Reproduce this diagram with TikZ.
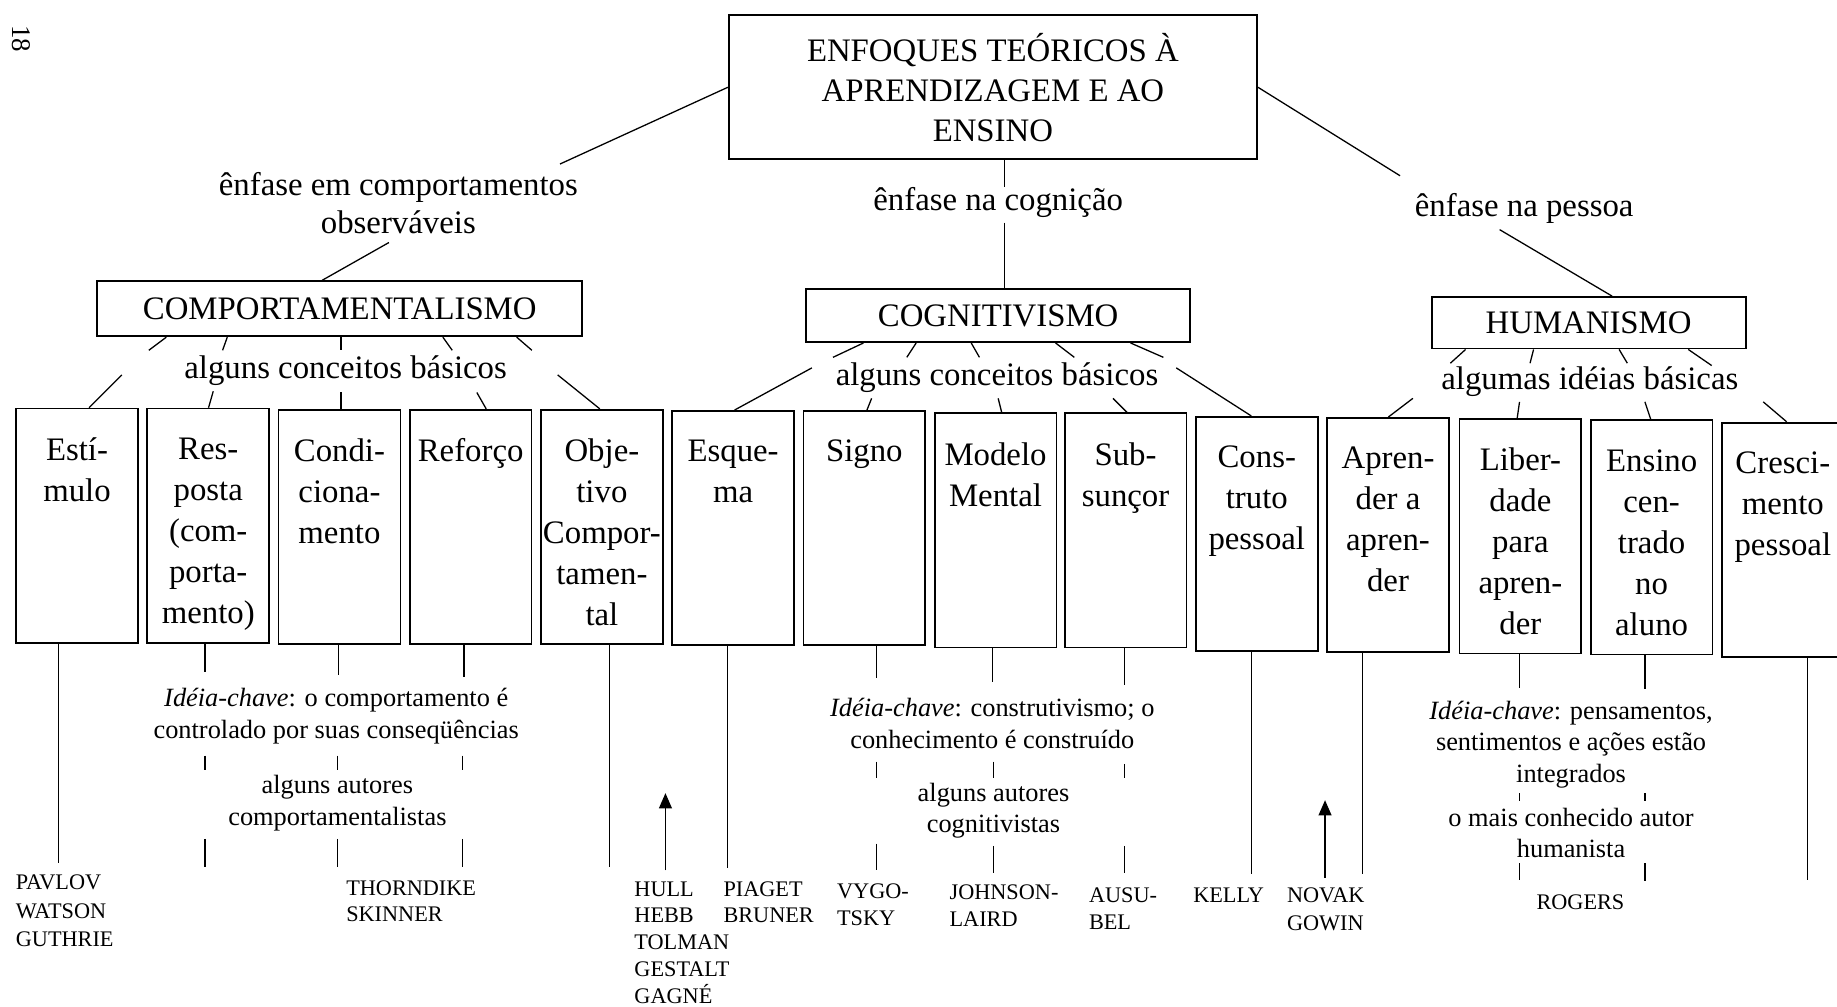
\documentclass[tikz,border=0pt]{standalone}
\usepackage{fontspec}
\setmainfont{Liberation Serif}
\usetikzlibrary{arrows.meta}
\begin{document}
\begin{tikzpicture}[x=1pt,y=-1pt,line width=1.1pt,
  cbox/.style={draw,line width=1.5pt,minimum width=104pt,minimum height=200pt,inner sep=0pt,anchor=north west},
  ctext/.style={font=\fontsize{28}{35}\selectfont,align=center,anchor=north,inner sep=0pt,yshift=-25pt},
  big/.style={font=\fontsize{28}{34}\selectfont,align=center,inner sep=0pt},
  catbox/.style={draw,line width=1.5pt,inner sep=0pt,font=\fontsize{28}{34}\selectfont},
  lab/.style={font=\fontsize{28}{33}\selectfont,align=center,inner sep=0pt},
  keytxt/.style={font=\fontsize{22.5}{27}\selectfont,align=center,inner sep=0pt},
  auth/.style={font=\fontsize{19}{23}\selectfont,align=left,anchor=north west,inner sep=0pt},
  uparrow/.style={-{Triangle[width=11pt,length=13pt]},line width=1.2pt}
]
\useasboundingbox (0,0) rectangle (1568,859);

% page number
\node[font=\fontsize{23}{23}\selectfont,rotate=-90,inner sep=0pt] (pg) at (18,33) {18};

% top box
\node[draw,line width=1.5pt,minimum width=451pt,minimum height=123pt,big] (top) at (847.5,74.5)
  {ENFOQUES TEÓRICOS À\\APRENDIZAGEM E AO\\ENSINO};

% emphasis labels
\node[lab] (e1) at (340,173.5) {ênfase em comportamentos\\observáveis};
\node[lab] (e2) at (852,173) {ênfase na cognição};
\node[lab] (e3) at (1301,178) {ênfase na pessoa};

% category boxes
\node[catbox,minimum width=414pt,minimum height=47pt] (comp) at (290,263.5) {COMPORTAMENTALISMO};
\node[catbox,minimum width=328pt,minimum height=45pt] (cog) at (852,269.5) {COGNITIVISMO};
\node[catbox,minimum width=268pt,minimum height=44pt] (hum) at (1356,275.5) {HUMANISMO};

% top-level connectors
\draw (top.west) -- (478,140);
\draw (332,207) -- (comp.north -| 275,0);
\draw (top.south -| 857.5,0) -- (857.5,160);
\draw (857.5,190) -- (cog.north -| 857.5,0);
\draw (top.east) -- (1195,150);
\draw (1280,196) -- (hum.north -| 1376,0);

% basic concept labels
\node[lab] (c1) at (295,316) {alguns conceitos básicos};
\node[lab] (c2) at (851,322) {alguns conceitos básicos};
\node[lab] (c3) at (1357,326) {algumas idéias básicas};

% concept boxes
\node[cbox] (b1) at (13,348) {};
\node[cbox] (b2) at (125,348) {};
\node[cbox] (b3) at (237,349) {};
\node[cbox] (b4) at (349,349) {};
\node[cbox] (b5) at (461,349) {};
\node[cbox] (b6) at (573,350) {};
\node[cbox] (b7) at (685,350) {};
\node[cbox] (b8) at (797,352) {};
\node[cbox] (b9) at (908,352) {};
\node[cbox] (b10) at (1020,355) {};
\node[cbox] (b11) at (1132,356) {};
\node[cbox] (b12) at (1245,357) {};
\node[cbox] (b13) at (1357,358) {};
\node[cbox] (b14) at (1469,360) {};

\node[ctext] at (b1.north) {Estí-\\mulo};
\node[ctext] at (b2.north) {Res-\\posta\\(com-\\porta-\\mento)};
\node[ctext] at (b3.north) {Condi-\\ciona-\\mento};
\node[ctext] at (b4.north) {Reforço};
\node[ctext] at (b5.north) {Obje-\\tivo\\Compor-\\tamen-\\tal};
\node[ctext] at (b6.north) {Esque-\\ma};
\node[ctext] at (b7.north) {Signo};
\node[ctext] at (b8.north) {Modelo\\Mental};
\node[ctext] at (b9.north) {Sub-\\sunçor};
\node[ctext] at (b10.north) {Cons-\\truto\\pessoal};
\node[ctext] at (b11.north) {Apren-\\der a\\apren-\\der};
\node[ctext] at (b12.north) {Liber-\\dade\\para\\apren-\\der};
\node[ctext] at (b13.north) {Ensino\\cen-\\trado\\no\\aluno};
\node[ctext] at (b14.north) {Cresci-\\mento\\pessoal};

% ticks: comportamentalismo
\draw (comp.south -| 142,0) -- (127,299);
\draw (comp.south -| 194,0) -- (190,299);
\draw (comp.south -| 291,0) -- (291,299);
\draw (comp.south -| 378,0) -- (386,299);
\draw (comp.south -| 441,0) -- (454,299);
\draw (104,320) -- (b1.north -| 76,0);
\draw (182,334) -- (b2.north -| 178,0);
\draw (291,335) -- (b3.north -| 291,0);
\draw (407,335) -- (b4.north -| 415,0);
\draw (476,320) -- (b5.north -| 512,0);

% ticks: cognitivismo
\draw (cog.south -| 737,0) -- (711,305);
\draw (cog.south -| 782,0) -- (774,305);
\draw (cog.south -| 829,0) -- (836,305);
\draw (cog.south -| 901,0) -- (917,305);
\draw (cog.south -| 965,0) -- (993,305);
\draw (693,314) -- (b6.north -| 627,0);
\draw (744,340) -- (b7.north -| 740,0);
\draw (852,340) -- (b8.north -| 855,0);
\draw (950,340) -- (b9.north -| 962,0);
\draw (1004,314) -- (b10.north -| 1068,0);

% ticks: humanismo
\draw (hum.south -| 1251,0) -- (1238,310);
\draw (hum.south -| 1309,0) -- (1306,310);
\draw (hum.south -| 1382,0) -- (1389,310);
\draw (hum.south -| 1441,0) -- (1461,312);
\draw (1206,340) -- (b11.north -| 1185,0);
\draw (1297,343) -- (b12.north -| 1295,0);
\draw (1404,343) -- (b13.north -| 1409,0);
\draw (1505,343) -- (b14.north -| 1525,0);

% lines below boxes
\draw (b1.south -| 50,0) -- (50,737);
\draw (b2.south -| 175,0) -- (175,574);
\draw (b3.south -| 289,0) -- (289,576);
\draw (b4.south -| 396,0) -- (396,578);
\draw (b5.south -| 520,0) -- (520,740);
\draw (b6.south -| 621,0) -- (621,741);
\draw (b7.south -| 748,0) -- (748,579);
\draw (b8.south -| 847,0) -- (847,582);
\draw (b9.south -| 960,0) -- (960,585);
\draw (b10.south -| 1068,0) -- (1068,746);
\draw (b11.south -| 1163,0) -- (1163,746);
\draw (b12.south -| 1297,0) -- (1297,587);
\draw (b13.south -| 1404,0) -- (1404,588);
\draw (b14.south -| 1543,0) -- (1543,751);

% key ideas
\node[keytxt] (k1) at (287,611.5) {\textit{Idéia-chave}: o comportamento é\\controlado por suas conseqüências};
\node[keytxt] (k2) at (847,617.5) {\textit{Idéia-chave}: construtivismo; o\\conhecimento é construído};
\node[keytxt] (k3) at (1341,635.5) {\textit{Idéia-chave}: pensamentos,\\sentimentos e ações estão\\integrados};

\node[keytxt] (a1) at (288,685.5) {alguns autores\\comportamentalistas};
\node[keytxt] (a2) at (848,692) {alguns autores\\cognitivistas};
\node[keytxt] (a3) at (1341,711) {o mais conhecido autor\\humanista};

% small ticks
\draw (175,645) -- (175,657);
\draw (288,645) -- (288,657);
\draw (395,645) -- (395,657);
\draw (175,716) -- (175,740);
\draw (288,716) -- (288,740);
\draw (395,716) -- (395,740);

\draw (748,650) -- (748,664);
\draw (848,650) -- (848,664);
\draw (960,652) -- (960,664);
\draw (748,720) -- (748,743);
\draw (848,722) -- (848,745);
\draw (960,722) -- (960,745);

\draw (1297,677) -- (1297,684);
\draw (1404,677) -- (1404,684);
\draw (1297,737) -- (1297,751);
\draw (1404,737) -- (1404,752);

% authors
\node[auth,font=\fontsize{19}{24.5}\selectfont] (p1) at (13,746) {PAVLOV\\WATSON\\GUTHRIE};
\node[auth,font=\fontsize{19}{22}\selectfont] (p2) at (295,751) {THORNDIKE\\SKINNER};
\node[auth,font=\fontsize{19}{22.8}\selectfont] (p3) at (541,752) {HULL\\HEBB\\TOLMAN\\GESTALT\\GAGNÉ};
\node[auth,font=\fontsize{19}{22}\selectfont] (p4) at (617,752) {PIAGET\\BRUNER};
\node[auth] (p5) at (714,754) {VYGO-\\TSKY};
\node[auth] (p6) at (810,755) {JOHNSON-\\LAIRD};
\node[auth] (p7) at (929,757) {AUSU-\\BEL};
\node[auth] (p8) at (1018,757) {KELLY};
\node[auth,font=\fontsize{19}{24}\selectfont] (p9) at (1098,757) {NOVAK\\GOWIN};
\node[font=\fontsize{19}{24.5}\selectfont,inner sep=0pt] (p10) at (1349,770) {ROGERS};

% arrows
\coordinate (h1) at (568,743);
\coordinate (h2) at (1131,749);
\draw[uparrow] (h1) -- (568,677);
\draw[uparrow] (h2) -- (1131,683);
\end{tikzpicture}
\end{document}
